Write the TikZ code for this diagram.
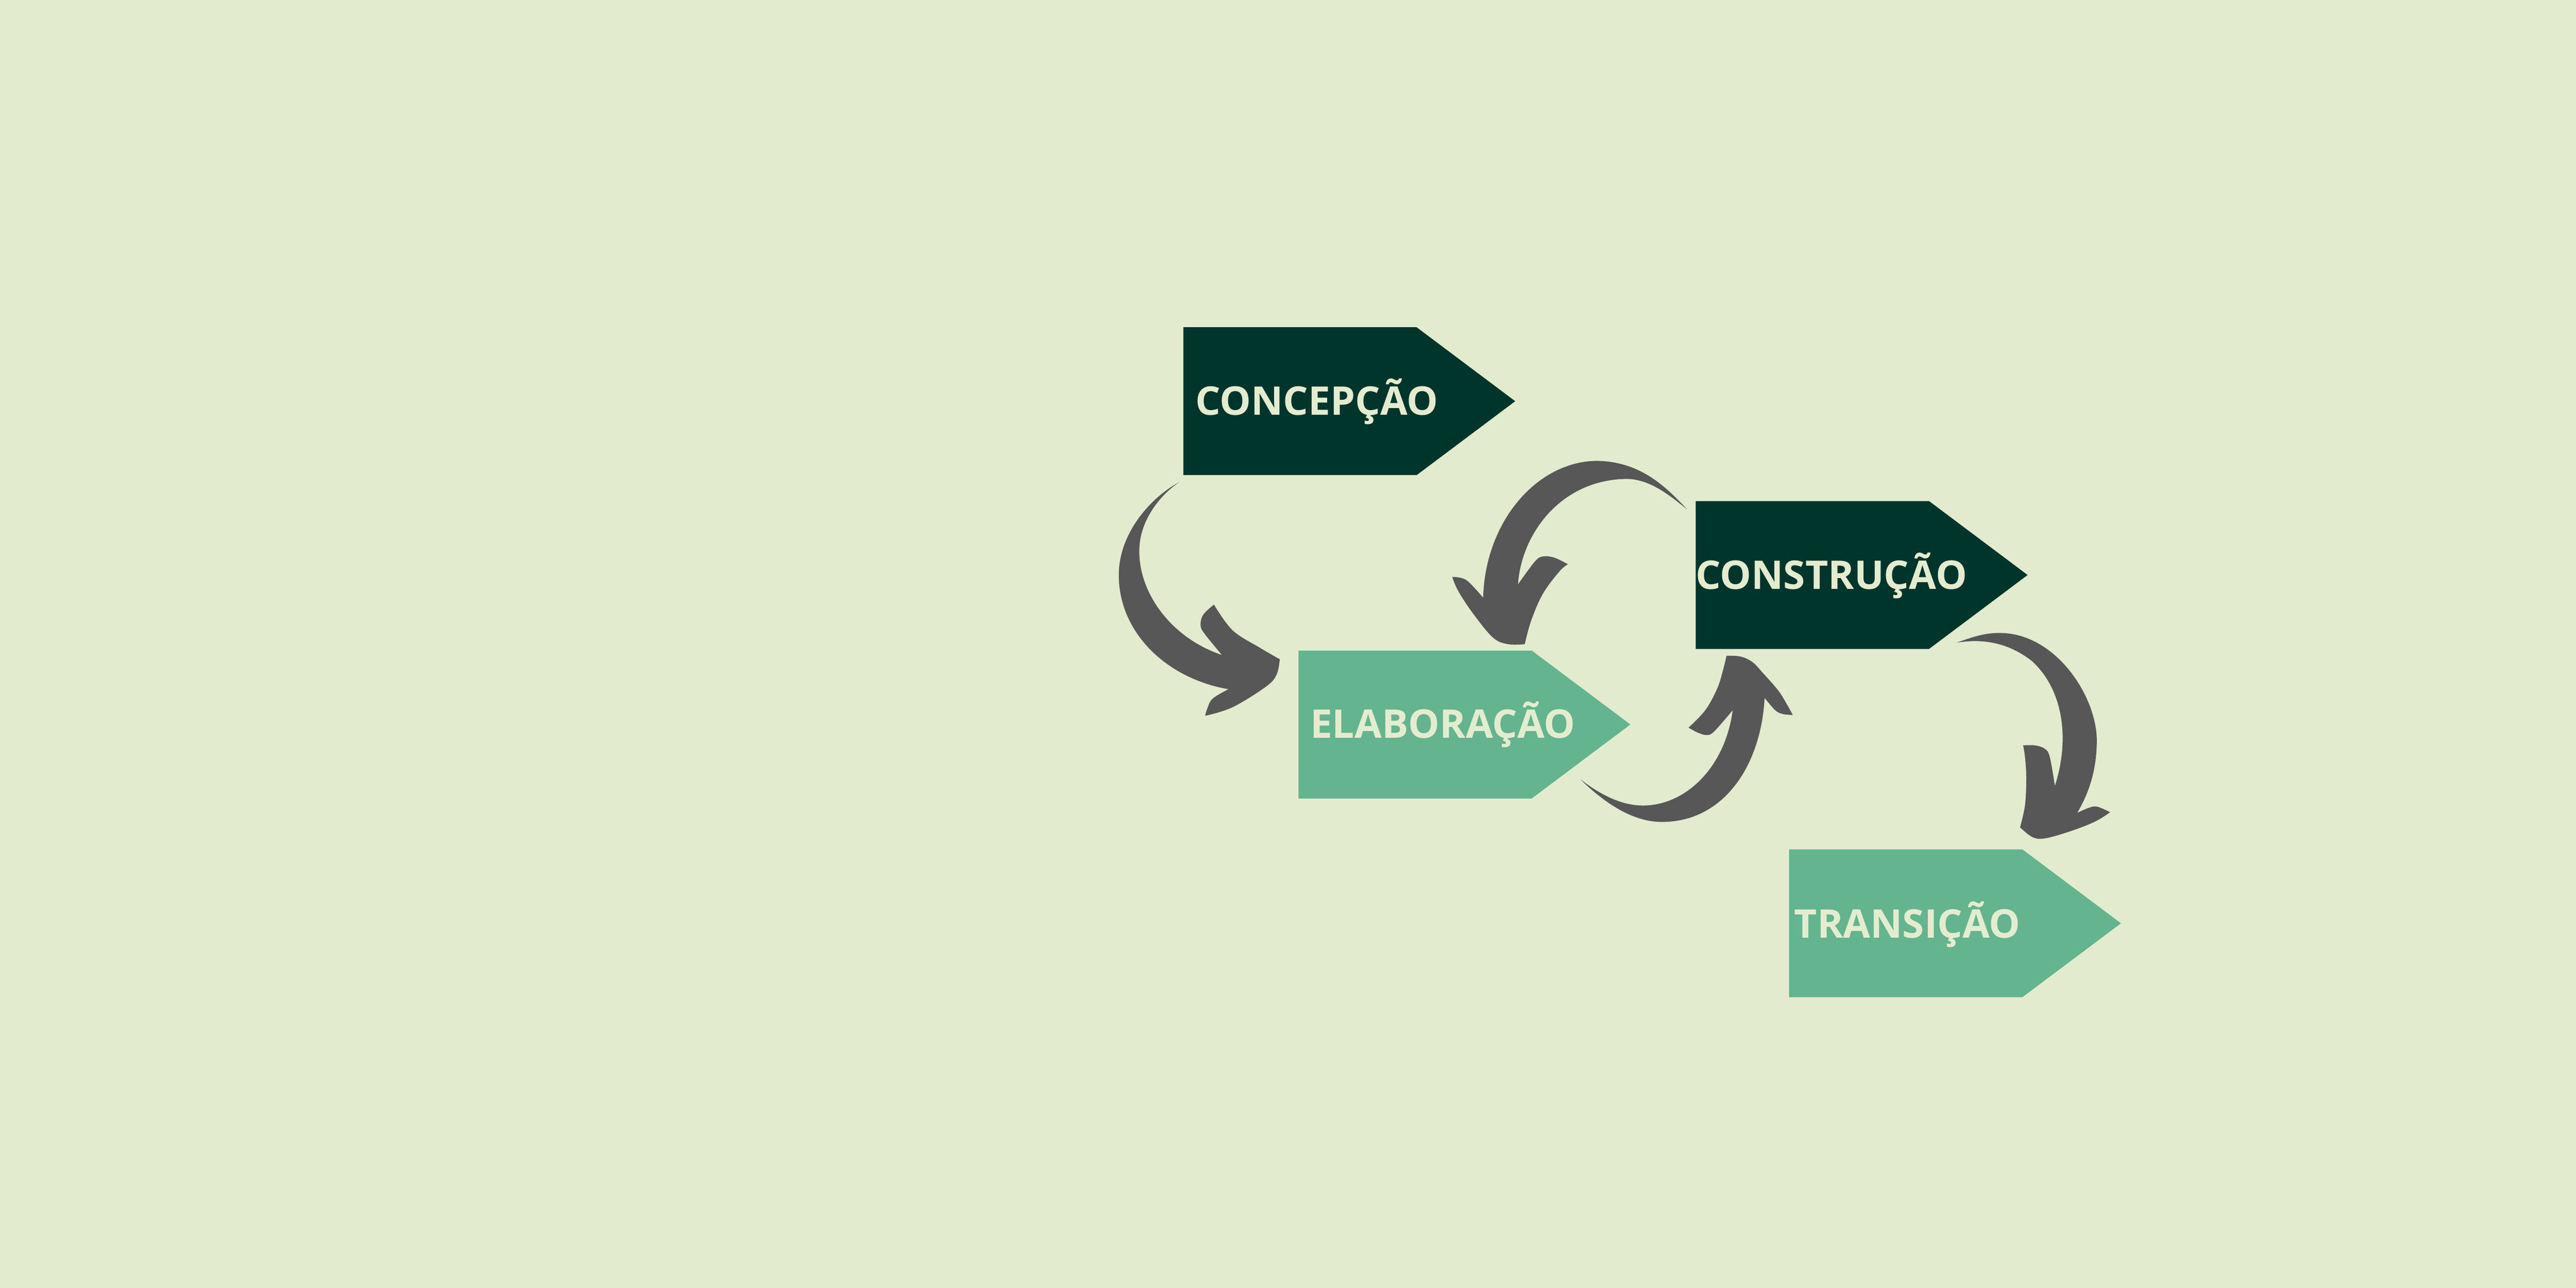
\documentclass[tikz,border=0pt]{standalone}
\usepackage{fontspec}
\newfontfamily\phasefont{Open Sans}
\definecolor{bgcream}{HTML}{E2EBCE}
\definecolor{darkgreen}{HTML}{00352C}
\definecolor{lightgreen}{HTML}{63B48F}
\definecolor{textcream}{HTML}{E4ECCF}
\definecolor{arrowgray}{HTML}{575757}
\tikzset{
  phasetext/.style={font=\phasefont\bfseries\fontsize{6.83pt}{8pt}\selectfont, text=textcream, anchor=base west, inner sep=0pt},
  arrowfill/.style={fill=arrowgray},
}
\newcommand\phasebox[3]{\fill[#3] (#1,#2) -- ++(142,0) -- ++(60,45) -- ++(-60,45) -- ++(-142,0) -- cycle;}
\begin{document}
\begin{tikzpicture}[x=0.01cm,y=-0.01cm]
\useasboundingbox (0,0) rectangle (1568,784);
\fill[bgcream] (0,0) rectangle (1568,784);
% boxes
\phasebox{720.3}{199.2}{darkgreen}
\phasebox{790.4}{396}{lightgreen}
\phasebox{1032.2}{305}{darkgreen}
\phasebox{1089}{517}{lightgreen}
\node[phasetext] (concepcao) at (727,252.5) {CONCEPÇÃO};
\node[phasetext] (elaboracao) at (796.8,449.2) {ELABORAÇÃO};
\node[phasetext] (construcao) at (1031.5,358.6) {CONSTRUÇÃO};
\node[phasetext] (transicao) at (1091.5,570.8) {TRANSIÇÃO};
% arrow 1 (concepcao -> elaboracao)
\fill[arrowfill] (717.8,293.5) .. controls (700,303) and (681,325) .. (681,350)
 .. controls (681,385) and (710,413) .. (747.8,419.5)
 -- plot[smooth,tension=0.6] coordinates {(747.8,419.5) (738.1,425.3) (734.8,431.5) (733.6,435.7)}
 -- plot[smooth,tension=0.6] coordinates {(733.6,435.7) (750.2,430.5) (770.5,418.0) (777.0,410.7) (779.0,401.3)}
 -- plot[smooth,tension=0.6] coordinates {(779.0,401.3) (766.4,394.0) (750.2,383.6) (738.9,368.0)}
 -- plot[smooth,tension=0.6] coordinates {(738.9,368.0) (732.4,374.2) (730.8,380.5) (733.2,385.7) (743.8,398.7)}
 .. controls (712,388) and (693,360) .. (693.5,335)
 .. controls (693.5,318) and (705,302) .. (717.8,293.5) -- cycle;
% arrow 2 (construcao -> elaboracao)
\fill[arrowfill] (1026.8,309.9) .. controls (1012,294) and (997,281) .. (972,280.5)
 .. controls (935,281) and (904,318) .. (902.8,363.8)
 -- plot[smooth,tension=0.6] coordinates {(902.8,363.8) (893.7,354.0) (888.6,351.6) (884.0,351.2)}
 -- plot[smooth,tension=0.6] coordinates {(884.0,351.2) (887.6,359.7) (896.7,373.5) (908.8,388.1) (918.0,392.1) (928.1,392.1)}
 -- plot[smooth,tension=0.6] coordinates {(928.1,392.1) (932.1,377.5) (939.2,361.3) (949.4,347.6) (954.4,343.5)}
 -- plot[smooth,tension=0.6] coordinates {(954.4,343.5) (946.3,339.5) (939.2,338.7) (934.2,341.9) (924.0,355.7)}
 .. controls (926,325) and (950,292) .. (990,291.5)
 .. controls (1005,291.5) and (1018,303) .. (1026.8,309.9) -- cycle;
% arrow 3 (elaboracao -> construcao)
\fill[arrowfill] (962.1,474.5) .. controls (978,490) and (995,500.5) .. (1012,500.3)
 .. controls (1050,500) and (1072,465) .. (1074.1,424.8)
 -- plot[smooth,tension=0.6] coordinates {(1074.1,424.8) (1080.6,432.3) (1085.2,434.6) (1091.2,435.2)}
 -- plot[smooth,tension=0.6] coordinates {(1091.2,435.2) (1088.0,429.3) (1082.4,420.3) (1073.2,409.8) (1066.7,403.0) (1059.3,399.6) (1050.9,399.2)}
 -- plot[smooth,tension=0.6] coordinates {(1050.9,399.2) (1049.1,406.8) (1045.4,418.8) (1038.0,432.3) (1027.8,442.9)}
 -- plot[smooth,tension=0.6] coordinates {(1027.8,442.9) (1033.4,445.9) (1038.9,447.4) (1043.5,445.1) (1054.7,432.3)}
 .. controls (1050,468) and (1025,491) .. (999,490.3)
 .. controls (985,490) and (972,482) .. (962.1,474.5) -- cycle;
% arrow 4 (construcao -> transicao)
\fill[arrowfill] (1191.0,391.2) .. controls (1200,388) and (1208,385) .. (1218.2,385.3)
 .. controls (1252,386) and (1277,425) .. (1276.3,452)
 .. controls (1276,472) and (1270,485) .. (1264.4,494.8)
 -- plot[smooth,tension=0.6] coordinates {(1264.4,494.8) (1271.2,491.8) (1276.5,491.0) (1284.4,494.4)}
 -- plot[smooth,tension=0.6] coordinates {(1284.4,494.4) (1275.0,500.2) (1259.8,506.1) (1244.7,510.3) (1237.1,509.5) (1229.6,503.6)}
 -- plot[smooth,tension=0.6] coordinates {(1229.6,503.6) (1232.6,490.2) (1233.4,473.4) (1232.6,460.8) (1231.5,453.7)}
 -- plot[smooth,tension=0.6] coordinates {(1231.5,453.7) (1238.7,453.7) (1244.7,455.8) (1247.7,460.8) (1250.8,478.4)}
 .. controls (1260,450) and (1256,420) .. (1237,402.5)
 .. controls (1225,393) and (1210,388) .. (1191.0,391.2) -- cycle;
\end{tikzpicture}
\end{document}
